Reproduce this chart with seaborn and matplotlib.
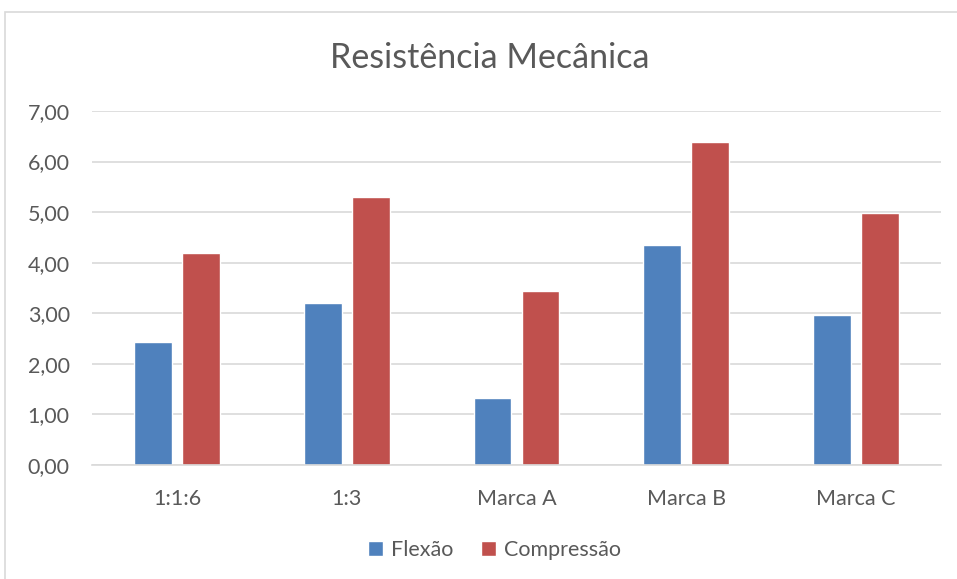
import matplotlib
matplotlib.use("Agg")
import matplotlib.pyplot as plt
import seaborn as sns
import pandas as pd
from matplotlib.patches import Rectangle

categories = ["1:1:6", "1:3", "Marca A", "Marca B", "Marca C"]
flexao = [2.43, 3.20, 1.33, 4.35, 2.97]
compressao = [4.19, 5.30, 3.44, 6.38, 4.98]
series_names = ["Flexão", "Compressão"]
yticks = [0, 1, 2, 3, 4, 5, 6, 7]
ytick_labels = ["0,00", "1,00", "2,00", "3,00", "4,00", "5,00", "6,00", "7,00"]

df = pd.DataFrame({
    "Categoria": categories * 2,
    "Série": [series_names[0]] * len(categories) + [series_names[1]] * len(categories),
    "Valor": flexao + compressao,
})

sns.set_theme(style="white")
plt.rcParams["font.family"] = ["Lato", "DejaVu Sans"]

text_color = "#595959"
grid_color = "#D9D9D9"

fig = plt.figure(figsize=(9.57, 5.79), dpi=100)
ax = fig.add_axes([92 / 957, 1 - 465 / 579, (941 - 92) / 957, (465 - 111) / 579])

sns.barplot(
    data=df, x="Categoria", y="Valor", hue="Série",
    palette=["#4F81BD", "#C0504D"], width=0.565, gap=0.21,
    saturation=1, ax=ax, legend=True,
)

ax.set_xlim(-0.5, len(categories) - 0.5)
ax.set_ylim(0, 7)
ax.set_yticks(yticks)
ax.set_yticklabels(ytick_labels)
ax.set_xlabel("")
ax.set_ylabel("")
ax.yaxis.grid(True, color=grid_color, linewidth=1.2)
ax.set_axisbelow(True)
for side in ["top", "right", "left"]:
    ax.spines[side].set_visible(False)
ax.spines["bottom"].set_color(grid_color)
ax.spines["bottom"].set_linewidth(1.2)
ax.tick_params(axis="both", length=0, labelsize=15.5, colors=text_color)
ax.tick_params(axis="y", pad=16)
ax.tick_params(axis="x", pad=17)

fig.text(490 / 957, 1 - 58 / 579, "Resistência Mecânica",
         ha="center", va="center", fontsize=24.5, color=text_color)

leg = ax.legend(
    loc="center", bbox_to_anchor=(0.474, -0.24), ncol=2, frameon=False,
    fontsize=15.5, handlelength=0.7, handleheight=0.7, handletextpad=0.35,
    columnspacing=1.3,
)
for t in leg.get_texts():
    t.set_color(text_color)

fig.patches.append(Rectangle((5 / 957, 0 - 0.01), 1.0, 1 - 12 / 579 + 0.01,
                             transform=fig.transFigure, fill=False,
                             edgecolor="#D9D9D9", linewidth=1.2))

fig.savefig("out.png", dpi=100)
